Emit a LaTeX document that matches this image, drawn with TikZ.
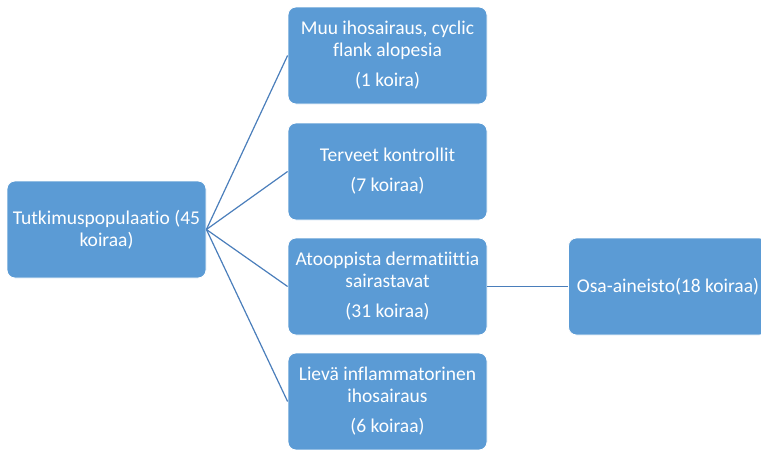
\documentclass[tikz,border=0pt]{standalone}
\usepackage{fontspec}
\setmainfont{Carlito}[Ligatures={NoCommon}]
\definecolor{boxblue}{HTML}{5B9BD5}
\definecolor{lineblue}{HTML}{4A7EBB}
\begin{document}
\begin{tikzpicture}[x=1pt,y=1pt,
  box/.style={rectangle, rounded corners=8pt, fill=boxblue, draw=white, line width=0.8pt,
    minimum width=199pt, minimum height=97pt, text=white, align=center,
    font=\fontsize{19.5}{22}\selectfont, inner sep=0pt},
  conn/.style={draw=lineblue, line width=1.2pt}]
\useasboundingbox (0,0) rectangle (761,-450);
\clip (0,0) rectangle (761,-450);
\fill[white] (0,0) rectangle (761,-450);
\node[box] (root) at (106.5,-229.5) {Tutkimuspopulaatio (45\\koiraa)};
\node[box] (b1) at (387.5,-55.5) {Muu ihosairaus, cyclic\\flank alopesia\\[8pt](1 koira)};
\node[box] (b2) at (387.5,-171.5) {Terveet kontrollit\\[8pt](7 koiraa)};
\node[box] (b3) at (387.5,-286.5) {Atooppista dermatiittia\\sairastavat\\[8pt](31 koiraa)};
\node[box] (b4) at (387.5,-401.5) {Lievä inflammatorinen\\ihosairaus\\[8pt](6 koiraa)};
\node[box] (r) at (668,-286.5) {Osa-aineisto(18 koiraa)};
\draw[conn] (root.east) -- (b1.west);
\draw[conn] (root.east) -- (b2.west);
\draw[conn] (root.east) -- (b3.west);
\draw[conn] (root.east) -- (b4.west);
\draw[conn] (b3.east) -- (r.west);
\end{tikzpicture}
\end{document}
